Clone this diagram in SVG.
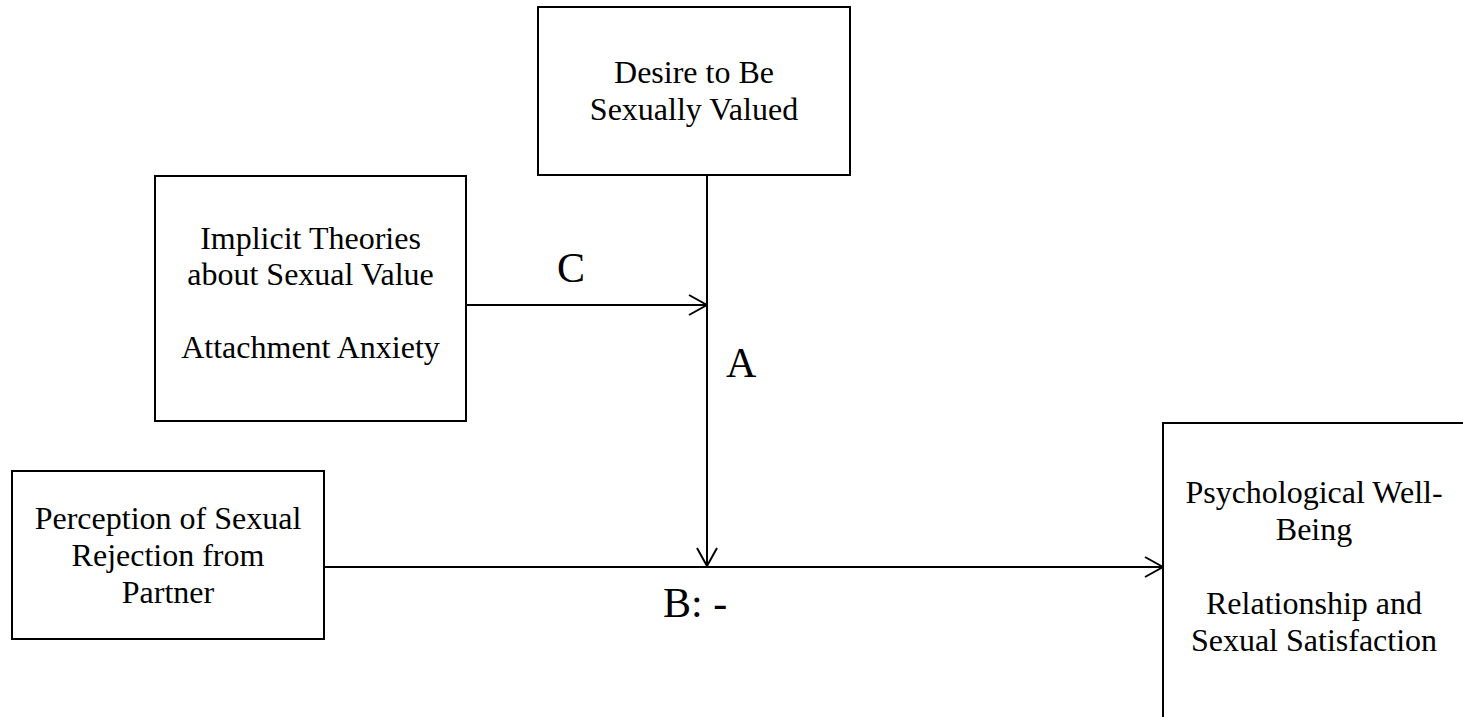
<svg xmlns="http://www.w3.org/2000/svg" width="1463" height="717" viewBox="0 0 1463 717">
  <style>
    .box { fill: #ffffff; stroke: #000000; stroke-width: 2; }
    .lbl { font-family: "Liberation Serif", "Times New Roman", serif; font-size: 32px; fill: #000000; text-anchor: middle; }
    .path-lbl { font-family: "Liberation Serif", "Times New Roman", serif; font-size: 42px; fill: #000000; }
    .conn { fill: none; stroke: #000000; stroke-width: 2; }
  </style>
  <defs>
    <marker id="open-arrow" viewBox="0 0 20 22" refX="19" refY="11" markerWidth="20" markerHeight="22" markerUnits="userSpaceOnUse" orient="auto">
      <path d="M1,1 L19,11 L1,21" fill="none" stroke="#000000" stroke-width="2"/>
    </marker>
  </defs>
  <rect width="1463" height="717" fill="#ffffff"/>

  <g id="connectors">
    <!-- moderator path into the A path -->
    <line class="conn" x1="466" y1="305" x2="707" y2="305" marker-end="url(#open-arrow)"/>
    <!-- A: moderator onto the B path -->
    <line class="conn" x1="707" y1="175" x2="707" y2="566" marker-end="url(#open-arrow)"/>
    <!-- B: predictor to outcomes -->
    <line class="conn" x1="324" y1="567" x2="1163" y2="567" marker-end="url(#open-arrow)"/>
    <text class="path-lbl" x="557" y="282">C</text>
    <text class="path-lbl" x="726" y="377">A</text>
    <text class="path-lbl" x="663" y="617">B: -</text>
  </g>

  <g id="node-desire">
    <rect class="box" x="538" y="7" width="312" height="168"/>
    <text class="lbl" x="694" y="83">Desire to Be</text>
    <text class="lbl" x="694" y="120">Sexually Valued</text>
  </g>

  <g id="node-moderators">
    <rect class="box" x="155" y="176" width="311" height="245"/>
    <text class="lbl" x="310.5" y="249">Implicit Theories</text>
    <text class="lbl" x="310.5" y="285">about Sexual Value</text>
    <text class="lbl" x="310.5" y="358">Attachment Anxiety</text>
  </g>

  <g id="node-rejection">
    <rect class="box" x="12" y="471" width="312" height="168"/>
    <text class="lbl" x="168" y="529">Perception of Sexual</text>
    <text class="lbl" x="168" y="566">Rejection from</text>
    <text class="lbl" x="168" y="603">Partner</text>
  </g>

  <g id="node-outcomes">
    <rect class="box" x="1163" y="423" width="303" height="310"/>
    <text class="lbl" x="1314" y="503">Psychological Well-</text>
    <text class="lbl" x="1314" y="540">Being</text>
    <text class="lbl" x="1314" y="614">Relationship and</text>
    <text class="lbl" x="1314" y="651">Sexual Satisfaction</text>
  </g>
</svg>
